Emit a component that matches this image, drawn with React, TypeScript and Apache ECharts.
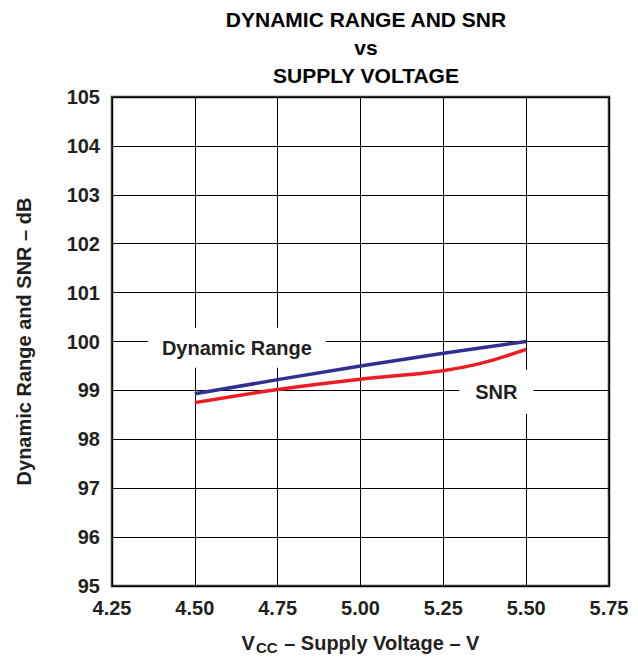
import React, { useEffect, useRef } from "react";
import * as echarts from "echarts";

const voltage = [4.5, 4.75, 5.0, 5.25, 5.5];
const dynamicRange = [98.93, 99.22, 99.5, 99.76, 100.0];
const snrVoltage = [4.5, 4.75, 5.0, 5.2, 5.3, 5.4, 5.5];
const snr = [98.75, 99.02, 99.23, 99.36, 99.46, 99.62, 99.84];
const xTicks = [4.25, 4.5, 4.75, 5.0, 5.25, 5.5, 5.75];
const yMin = 95;
const yMax = 105;
const drLabelPos = [4.627, 99.87];
const snrLabelPos = [5.41, 98.97];

const FONT = "'Liberation Sans', Arial, Helvetica, sans-serif";
const TXT = "#231f20";

export default function App() {
  const ref = useRef<HTMLDivElement>(null);
  useEffect(() => {
    if (!ref.current) return;
    const chart = echarts.init(ref.current, undefined, { renderer: "svg" });
    const labelStyle = {
      show: true,
      color: TXT,
      fontFamily: FONT,
      fontWeight: "bold" as const,
      fontSize: 20,
      backgroundColor: "#ffffff",
    };
    chart.setOption({
      animation: false,
      backgroundColor: "#ffffff",
      textStyle: { fontFamily: FONT },
      title: {
        text: "DYNAMIC RANGE AND SNR\nvs\nSUPPLY VOLTAGE",
        left: 361,
        textAlign: "center",
        top: 0,
        textStyle: {
          fontFamily: FONT,
          fontWeight: "bold",
          fontSize: 21,
          lineHeight: 28,
          color: "#000000",
        },
      },
      grid: {
        left: 112,
        right: 29,
        top: 97,
        bottom: 67,
        show: true,
        borderColor: "#333333",
        borderWidth: 2.5,
        backgroundColor: "transparent",
      },
      xAxis: {
        type: "value",
        min: xTicks[0],
        max: xTicks[xTicks.length - 1],
        interval: 0.25,
        name: "{v|V}{sub|CC}{v| – Supply Voltage – V}",
        nameLocation: "middle",
        nameGap: 44,
        nameTextStyle: {
          rich: {
            v: { fontFamily: FONT, fontWeight: "bold", fontSize: 20, color: TXT },
            sub: {
              fontFamily: FONT,
              fontWeight: "bold",
              fontSize: 15,
              color: TXT,
              padding: [10, 1, 0, 1],
            },
          },
        },
        axisLine: { show: false },
        axisTick: { show: false },
        splitLine: { show: true, lineStyle: { color: "#000000", width: 1 } },
        axisLabel: {
          color: TXT,
          fontFamily: FONT,
          fontWeight: "bold",
          fontSize: 20,
          margin: 12,
          formatter: (v: number) => v.toFixed(2),
        },
      },
      yAxis: {
        type: "value",
        min: yMin,
        max: yMax,
        interval: 1,
        name: "Dynamic Range and SNR – dB",
        nameLocation: "middle",
        nameGap: 78,
        nameTextStyle: {
          fontFamily: FONT,
          fontWeight: "bold",
          fontSize: 20,
          color: TXT,
        },
        axisLine: { show: false },
        axisTick: { show: false },
        splitLine: { show: true, lineStyle: { color: "#000000", width: 1 } },
        axisLabel: {
          color: TXT,
          fontFamily: FONT,
          fontWeight: "bold",
          fontSize: 20,
          margin: 12,
        },
      },
      series: [
        {
          type: "line",
          name: "Dynamic Range",
          data: voltage.map((v, i) => [v, dynamicRange[i]]),
          showSymbol: false,
          symbol: "none",
          lineStyle: { color: "#2e3192", width: 3.5 },
          z: 3,
          markPoint: {
            symbol: "rect",
            symbolSize: 0,
            data: [{ coord: drLabelPos, value: "Dynamic Range" }],
            label: { ...labelStyle, padding: [10, 14], formatter: "Dynamic Range", position: "inside" },
          },
        },
        {
          type: "line",
          name: "SNR",
          data: snrVoltage.map((v, i) => [v, snr[i]]),
          showSymbol: false,
          symbol: "none",
          smooth: 0.3,
          lineStyle: { color: "#ed1c24", width: 3.5 },
          z: 3,
          markPoint: {
            symbol: "rect",
            symbolSize: 0,
            data: [{ coord: snrLabelPos, value: "SNR" }],
            label: { ...labelStyle, padding: [12, 16], formatter: "SNR", position: "inside" },
          },
        },
      ],
    });
    return () => chart.dispose();
  }, []);
  return (
    <div
      ref={ref}
      style={{ position: "fixed", left: 0, top: 0, width: 638, height: 660, background: "#fff" }}
    />
  );
}
